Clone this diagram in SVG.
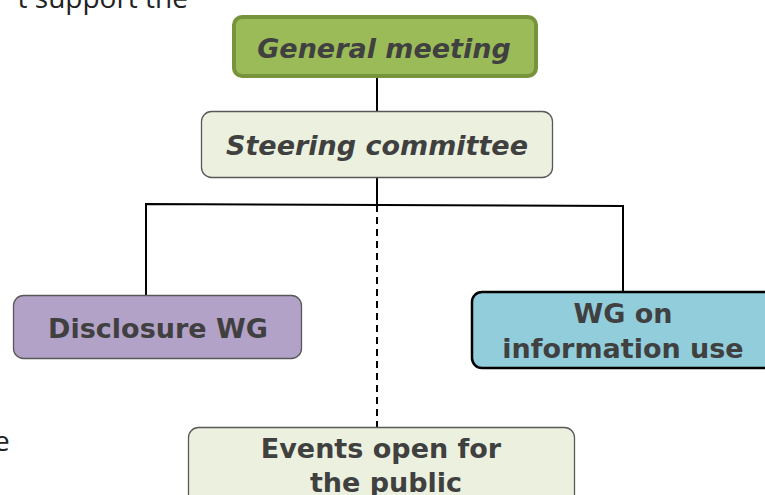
<svg xmlns="http://www.w3.org/2000/svg" width="765" height="495" viewBox="0 0 765 495">
<style>
.lbl{font-family:"DejaVu Sans",Verdana,sans-serif;font-weight:bold;font-size:27px;fill:#404040;text-anchor:middle}
.it{font-style:italic}
.frag{font-family:"Open Sans","Noto Sans",sans-serif;font-size:28px;fill:#222222}
.ln{stroke:#000;stroke-width:2;fill:none}
</style>
<rect width="765" height="495" fill="#ffffff"/>
<text class="frag" x="188" y="8" text-anchor="end">t support the</text>
<text class="frag" x="-6" y="451">e</text>
<g id="connectors">
<line class="ln" x1="377" y1="78" x2="377" y2="111"/>
<line class="ln" x1="377" y1="178" x2="377" y2="205"/>
<polyline class="ln" points="146,295 146,204 623,206 623,291"/>
<line class="ln" x1="377" y1="205" x2="377" y2="427" stroke-dasharray="7,5"/>
</g>
<g id="general-meeting">
<rect x="234" y="17" width="302" height="59" rx="8" fill="#9BBB59" stroke="#77933C" stroke-width="4"/>
<text class="lbl it" x="384" y="58">General meeting</text>
</g>
<g id="steering-committee">
<rect x="201.5" y="111.5" width="351" height="66" rx="10" fill="#EBF1DE" stroke="#595959" stroke-width="1.3"/>
<text class="lbl it" x="377" y="155">Steering committee</text>
</g>
<g id="disclosure-wg">
<rect x="13.5" y="295.5" width="288" height="63" rx="10" fill="#B3A2C7" stroke="#595959" stroke-width="1.3"/>
<text class="lbl" x="158" y="338">Disclosure WG</text>
</g>
<g id="wg-information-use">
<rect x="472" y="292" width="305" height="76" rx="10" fill="#92CDDC" stroke="#000" stroke-width="2.5"/>
<text class="lbl" x="623" y="323">WG on</text>
<text class="lbl" x="623" y="358">information use</text>
</g>
<g id="events-public">
<rect x="188.5" y="427.5" width="386" height="80" rx="10" fill="#EBF1DE" stroke="#595959" stroke-width="1.3"/>
<text class="lbl" x="381" y="458">Events open for</text>
<text class="lbl" x="386" y="492">the public</text>
</g>
</svg>
